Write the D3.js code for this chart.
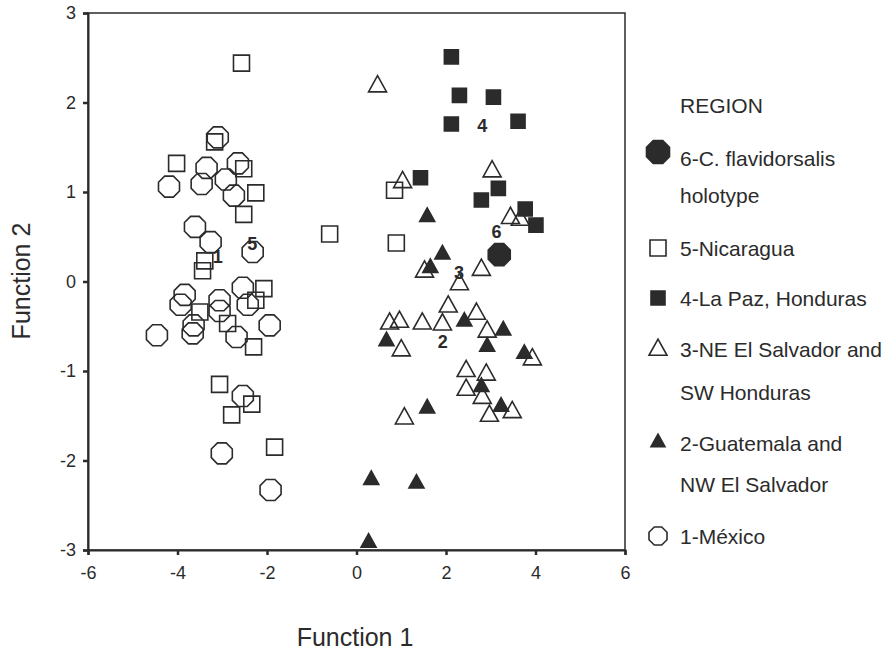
<!DOCTYPE html>
<html>
<head>
<meta charset="utf-8">
<script src="https://cdn.jsdelivr.net/npm/d3@7"></script>
<style>
  html, body { margin: 0; padding: 0; background: #fff; }
  text { font-family: "Liberation Sans", Arial, sans-serif; fill: #2b2b2b; }
</style>
</head>
<body>
<svg id="chart" width="894" height="650"></svg>
<script>
// ---- data (Function 1, Function 2) ----
const mexico = [
  [-3.10, 1.61], [-3.35, 1.27], [-2.65, 1.32], [-4.19, 1.06], [-3.46, 1.09],
  [-2.92, 1.14], [-2.74, 0.96], [-3.61, 0.61], [-3.26, 0.44], [-2.32, 0.33],
  [-3.84, -0.15], [-3.93, -0.26], [-3.06, -0.21], [-3.06, -0.33], [-2.54, -0.07],
  [-2.43, -0.26], [-3.64, -0.49], [-3.66, -0.58], [-4.46, -0.60], [-2.68, -0.62],
  [-1.94, -0.49], [-2.54, -1.28], [-3.01, -1.92], [-1.92, -2.33]
];
const guatemala = [
  [1.58, 0.74], [1.92, 0.32], [1.65, 0.17], [2.41, -0.43], [3.28, -0.53],
  [0.67, -0.65], [2.92, -0.71], [3.75, -0.79], [2.79, -1.16], [1.58, -1.40],
  [3.23, -1.38], [0.33, -2.20], [1.34, -2.24], [0.27, -2.90]
];
const neElSalvador = [
  [0.47, 2.20], [1.03, 1.13], [3.03, 1.25], [3.44, 0.73], [3.66, 0.71],
  [1.52, 0.13], [2.79, 0.15], [2.30, -0.01], [2.05, -0.26], [2.68, -0.34],
  [0.74, -0.45], [0.96, -0.43], [1.47, -0.45], [1.92, -0.46], [2.92, -0.54],
  [1.00, -0.75], [3.93, -0.85], [2.45, -0.98], [2.90, -1.02], [2.45, -1.19],
  [2.81, -1.28], [2.97, -1.48], [3.48, -1.44], [1.07, -1.51]
];
const laPaz = [
  [2.12, 2.51], [2.30, 2.08], [3.06, 2.06], [2.12, 1.76], [3.61, 1.79],
  [1.43, 1.16], [3.17, 1.04], [2.79, 0.91], [3.77, 0.81], [4.01, 0.63]
];
const nicaragua = [
  [-2.57, 2.44], [-3.17, 1.56], [-4.02, 1.32], [-2.52, 1.26], [-2.25, 0.99],
  [-2.52, 0.75], [-0.60, 0.53], [-3.39, 0.23], [-3.44, 0.12], [-2.07, -0.08],
  [-2.25, -0.21], [-3.50, -0.34], [-2.88, -0.47], [-2.30, -0.73], [-3.06, -1.15],
  [-2.34, -1.37], [-2.79, -1.49], [-1.83, -1.85], [0.85, 1.02], [0.89, 0.43]
];
const holotype = [[3.19, 0.30]];

// group centroid labels
const groupLabels = ["1", "5", "4", "6", "3", "2"];
const groupLabelPos = [[-3.10, 0.27], [-2.33, 0.42], [2.81, 1.74], [3.13, 0.55], [2.29, 0.09], [1.93, -0.68]];

const xTicks = [-6, -4, -2, 0, 2, 4, 6];
const yTicks = [3, 2, 1, 0, -1, -2, -3];

const legendLabels = [
  ["6-C. flavidorsalis", "holotype"],
  ["5-Nicaragua"],
  ["4-La Paz, Honduras"],
  ["3-NE El Salvador and", "SW Honduras"],
  ["2-Guatemala and", "NW El Salvador"],
  ["1-México"]
];

// ---- layout ----
const svg = d3.select("#chart");
const ink = "#2b2b2b";
const mLeft = 88, mRight = 625, mTop = 13, mBottom = 550;
const x = d3.scaleLinear().domain([-6, 6]).range([mLeft, mRight]);
const y = d3.scaleLinear().domain([-3, 3]).range([mBottom, mTop]);

// custom symbol types
const octagon = { draw(ctx, size) {
  const r = Math.sqrt(size) / 2 / Math.cos(Math.PI / 8);
  for (let i = 0; i < 8; i++) {
    const a = Math.PI / 8 + i * Math.PI / 4;
    const px = r * Math.cos(a), py = r * Math.sin(a);
    if (i === 0) ctx.moveTo(px, py); else ctx.lineTo(px, py);
  }
  ctx.closePath();
}};
const square = { draw(ctx, size) {
  const s = Math.sqrt(size) / 2;
  ctx.rect(-s, -s, 2 * s, 2 * s);
}};
const triangle = { draw(ctx, size) {
  const w = Math.sqrt(size), h = w * 0.9;
  ctx.moveTo(0, -h * 0.55);
  ctx.lineTo(w / 2, h * 0.45);
  ctx.lineTo(-w / 2, h * 0.45);
  ctx.closePath();
}};

const groups = [
  { data: mexico,       type: octagon,  size: 21 * 21, fill: "none" },
  { data: nicaragua,    type: square,   size: 16 * 16, fill: "none" },
  { data: neElSalvador, type: triangle, size: 18 * 18, fill: "none" },
  { data: guatemala,    type: triangle, size: 15 * 15, fill: ink },
  { data: laPaz,        type: square,   size: 14 * 14, fill: ink },
  { data: holotype,     type: octagon,  size: 22 * 22, fill: ink }
];

// frame
svg.append("rect")
  .attr("x", mLeft).attr("y", mTop)
  .attr("width", mRight - mLeft).attr("height", mBottom - mTop)
  .attr("fill", "none").attr("stroke", ink).attr("stroke-width", 1.5);

// axes
const xAxis = svg.append("g").attr("transform", `translate(0,${mBottom})`)
  .call(d3.axisBottom(x).tickValues(xTicks).tickSize(5).tickPadding(11).tickFormat(d => String(d)));
const yAxis = svg.append("g").attr("transform", `translate(${mLeft},0)`)
  .call(d3.axisLeft(y).tickValues(yTicks).tickSize(5).tickPadding(7).tickFormat(d => String(d)));
[xAxis, yAxis].forEach(g => {
  g.select(".domain").attr("stroke", ink).attr("stroke-width", 2);
  g.selectAll(".tick line").attr("stroke", ink).attr("stroke-width", 2.5);
  g.selectAll(".tick text").attr("fill", ink)
    .style("font-family", "'Liberation Sans', Arial, sans-serif").style("font-size", "18px");
});

// points
groups.forEach(gp => {
  svg.append("g").selectAll("path").data(gp.data).join("path")
    .attr("transform", d => `translate(${x(d[0])},${y(d[1])})`)
    .attr("d", d3.symbol().type(gp.type).size(gp.size))
    .attr("fill", gp.fill)
    .attr("stroke", ink)
    .attr("stroke-width", 1.6);
});

// group labels
svg.append("g").selectAll("text").data(groupLabels).join("text")
  .attr("x", (d, i) => x(groupLabelPos[i][0]))
  .attr("y", (d, i) => y(groupLabelPos[i][1]))
  .attr("text-anchor", "middle").attr("dominant-baseline", "central")
  .style("font-size", "18px").style("font-weight", "bold")
  .text(d => d);

// axis titles
svg.append("text").attr("x", 355).attr("y", 637).attr("text-anchor", "middle")
  .attr("dominant-baseline", "central")
  .style("font-size", "25px").text("Function 1");
svg.append("text").attr("transform", "translate(30,281) rotate(-90)").attr("text-anchor", "middle")
  .style("font-size", "25px").text("Function 2");

// legend
const lg = svg.append("g");
lg.append("text").attr("x", 680).attr("y", 105).attr("dominant-baseline", "central")
  .style("font-size", "21px").text("REGION");
const legendMarkers = [groups[5], groups[1], groups[4], groups[2], groups[3], groups[0]];
const legendSizes = [23 * 23, 16 * 16, 14 * 14, 18 * 18, 14 * 14, 18 * 18];
const legendMarkY = [152, 248, 298, 348, 441, 536];
const legendTextY = [[158, 195], [248], [298], [349, 392], [443, 484], [536]];
legendLabels.forEach((lines, i) => {
  const mk = legendMarkers[i];
  lg.append("path")
    .attr("transform", `translate(658,${legendMarkY[i]})`)
    .attr("d", d3.symbol().type(mk.type).size(legendSizes[i]))
    .attr("fill", mk.fill).attr("stroke", ink).attr("stroke-width", 1.6);
  lines.forEach((t, j) => {
    lg.append("text").attr("x", 680).attr("y", legendTextY[i][j])
      .attr("dominant-baseline", "central").style("font-size", "21px").text(t);
  });
});
</script>
</body>
</html>
